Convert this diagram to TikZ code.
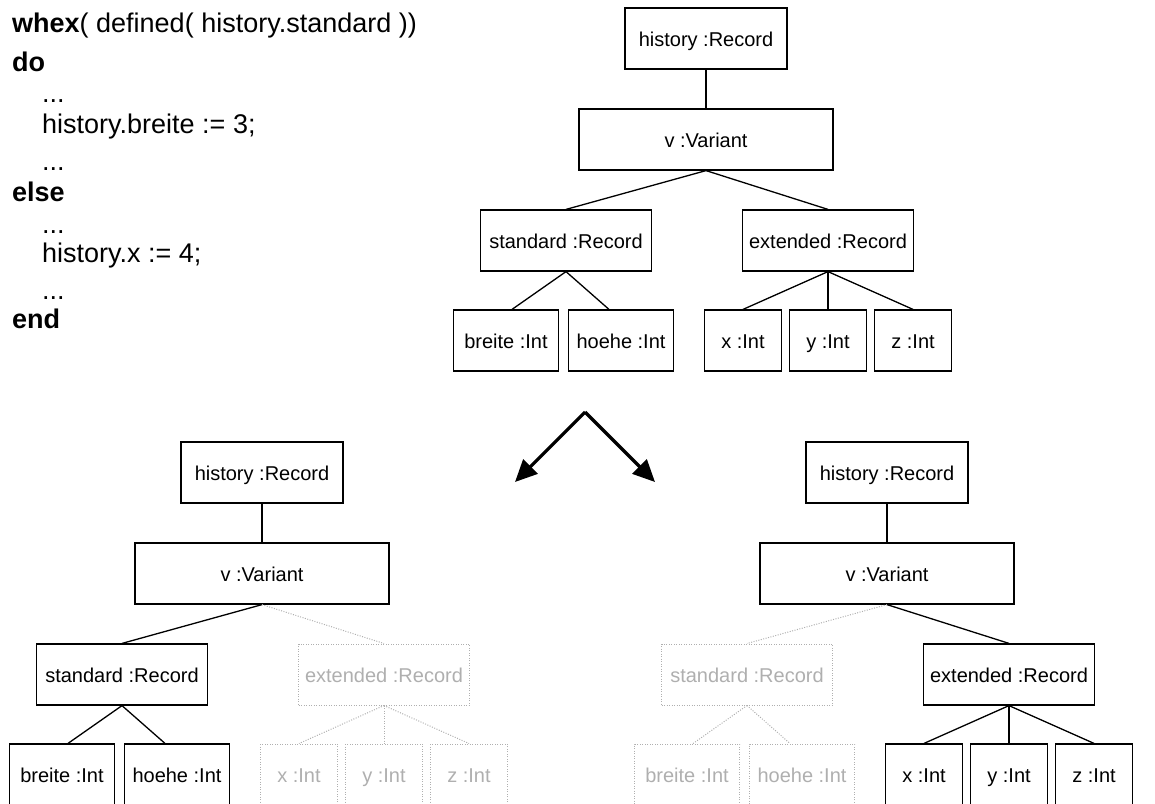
\documentclass[tikz,border=0pt]{standalone}
\usepackage{fontspec}
\setmainfont{Liberation Sans}
\usetikzlibrary{arrows.meta}

\definecolor{ghostgray}{RGB}{175,175,175}

\tikzset{
  obj/.style={draw, rectangle, line width=1.2pt, inner sep=0pt,
    minimum height=61pt, text height=18pt, text depth=3pt,
    font=\fontsize{20}{24}\selectfont},
  ghost/.style={obj, draw=ghostgray, text=ghostgray, line width=1pt,
    dash pattern=on 1pt off 1.5pt},
  link/.style={line width=1.3pt},
  ghostlink/.style={draw=ghostgray, line width=1pt, dash pattern=on 1pt off 1.5pt},
  code/.style={anchor=base west, inner sep=0pt, font=\fontsize{27}{33}\selectfont},
  bigarrow/.style={line width=3.2pt, -{Triangle[length=22pt,width=20pt]}},
}

% #1 prefix, #2/#3 position of the tree,
% #4 box style of the standard branch, #5 its connector style,
% #6 box style of the extended branch, #7 its connector style
\newcommand{\recordtree}[7]{%
  \begin{scope}[shift={(#2,#3)}]
    \node[obj, minimum width=162pt] (#1hist) at (0,30.5) {history :Record};
    \node[obj, minimum width=254pt] (#1var) at (0,131.5) {v :Variant};
    \node[#4, minimum width=171pt] (#1std) at (-140,232.5) {standard :Record};
    \node[#6, minimum width=171pt] (#1ext) at (122,232.5) {extended :Record};
    \node[#4, minimum width=105pt] (#1breite) at (-200,332.5) {breite :Int};
    \node[#4, minimum width=105pt] (#1hoehe) at (-85,332.5) {hoehe :Int};
    \node[#6, minimum width=77pt] (#1x) at (37,332.5) {x :Int};
    \node[#6, minimum width=77pt] (#1y) at (122,332.5) {y :Int};
    \node[#6, minimum width=77pt] (#1z) at (207,332.5) {z :Int};
    \draw[link] (#1hist.south) -- (#1var.north);
    \draw[#5] (#1var.south) -- (#1std.north);
    \draw[#7] (#1var.south) -- (#1ext.north);
    \draw[#5] (#1std.south) -- ([xshift=6pt]#1breite.north);
    \draw[#5] (#1std.south) -- ([xshift=-12pt]#1hoehe.north);
    \draw[#7] (#1ext.south) -- (#1x.north);
    \draw[#7] (#1ext.south) -- (#1y.north);
    \draw[#7] (#1ext.south) -- (#1z.north);
  \end{scope}}

\begin{document}
\begin{tikzpicture}[x=1pt, y=-1pt]
  \useasboundingbox (0,0) rectangle (1155,803);
  \clip (0,0) rectangle (1155,803);

  % program fragment
  \node[code] (c1) at (12,32) {\textbf{whex}( defined( history.standard ))};
  \node[code] (c2) at (12,71) {\textbf{do}};
  \node[code] (c3) at (42,102) {...};
  \node[code] (c4) at (42,133) {history.breite := 3;};
  \node[code] (c5) at (42,170) {...};
  \node[code] (c6) at (12,201) {\textbf{else}};
  \node[code] (c7) at (42,233) {...};
  \node[code] (c8) at (42,262) {history.x := 4;};
  \node[code] (c9) at (42,299) {...};
  \node[code] (c10) at (12,328) {\textbf{end}};

  % the full structure and its two specialisations
  \recordtree{t}{706}{8}{obj}{link}{obj}{link}
  \recordtree{l}{262}{442}{obj}{link}{ghost}{ghostlink}
  \recordtree{r}{887}{442}{ghost}{ghostlink}{obj}{link}

  % branching arrows
  \coordinate (fork) at (585,412);
  \coordinate (toleft) at (515,482);
  \coordinate (toright) at (655,482);
  \draw[bigarrow] (fork) -- (toleft);
  \draw[bigarrow] (fork) -- (toright);
\end{tikzpicture}
\end{document}
